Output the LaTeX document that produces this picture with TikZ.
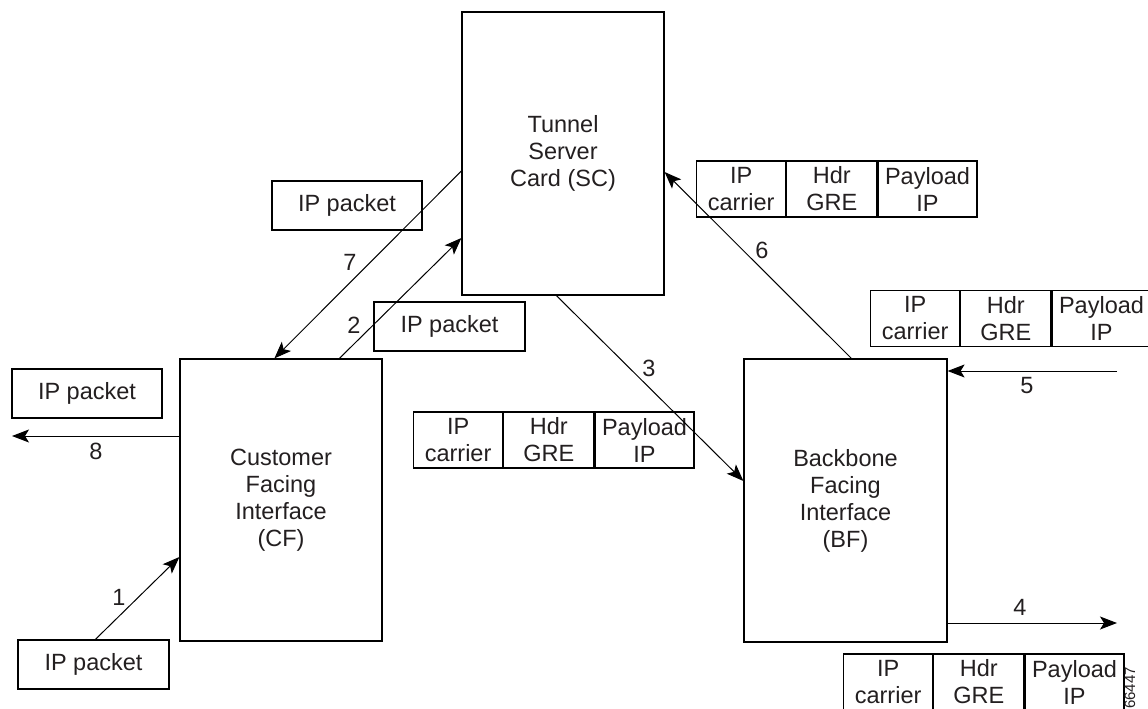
\documentclass[tikz,border=0pt]{standalone}
\usepackage{fontspec}
\setmainfont{Liberation Sans}
\usetikzlibrary{arrows.meta,calc}
\definecolor{txt}{RGB}{35,31,32}
\newcommand\grepkt[3]{%
  \node[cell, minimum width=89pt, anchor=west] (#1a) at (#2,#3) {IP\\carrier};
  \node[cell, minimum width=90pt, anchor=west] (#1b) at (#1a.east) {Hdr\\GRE};
  \node[cell, minimum width=99pt, anchor=west] (#1c) at (#1b.east) {Payload\\IP};
}
\begin{document}
\begin{tikzpicture}[x=1pt,y=-1pt,
  box/.style={draw=black, line width=1.2pt, inner sep=0pt, align=center, text=txt,
              font=\fontsize{23.5}{27}\selectfont},
  unit/.style={box, minimum width=202pt, minimum height=283pt},
  pkt/.style={box, minimum width=150pt, minimum height=49pt},
  cell/.style={box, minimum height=56pt},
  num/.style={text=txt, font=\fontsize{23.5}{27}\selectfont, inner sep=0pt},
  arr/.style={draw=black, line width=1pt, -{Stealth[length=17pt,width=13pt,inset=4pt]}}]
\useasboundingbox (0,0) rectangle (1148,709);

% main units
\node[unit] (sc) at (563,153.5) {Tunnel\\Server\\Card (SC)};
\node[unit, minimum height=282pt] (cf) at (281,500) {Customer\\Facing\\Interface\\(CF)};
\node[unit, minimum width=203pt] (bf) at (845.5,500.5) {Backbone\\Facing\\Interface\\(BF)};

% IP packets
\node[pkt] (ipA) at (87,393.5) {IP packet};
\node[pkt, minimum width=151pt] (ipB) at (93.5,664.5) {IP packet};
\node[pkt] (ipC) at (347,205.5) {IP packet};
\node[pkt, minimum width=151pt] (ipD) at (449.5,326.5) {IP packet};

% GRE packets
\grepkt{m}{413}{440}
\grepkt{t}{696}{189}
\grepkt{r}{870}{318.5}
\grepkt{b}{843}{682}

% free ends
\coordinate (e4) at (1117,623);
\coordinate (e5) at (1117,371);
\coordinate (e8) at (12,436);

% connectors
\draw[arr] ([xshift=78pt]ipB.north west) -- ([yshift=-57pt]cf.west);
\draw[arr] ([xshift=160pt]cf.north west) -- ([yshift=-84.5pt]sc.west);
\draw[arr] ([xshift=95pt]sc.south west) -- ([yshift=19.5pt]bf.west);
\draw[arr] ([yshift=-122.5pt]bf.east) -- (e4);
\draw[arr] (e5) -- ([yshift=129.5pt]bf.east);
\draw[arr] ([xshift=108pt]bf.north west) -- ([yshift=-18.5pt]sc.east);
\draw[arr] ([yshift=-17.5pt]sc.west) -- ([xshift=95pt]cf.north west);
\draw[arr] ([yshift=64pt]cf.west) -- (e8);

% step labels
\node[num] (n1) at (119,597) {1};
\node[num] (n2) at (354,325) {2};
\node[num] (n3) at (649,368) {3};
\node[num] (n4) at (1020,607) {4};
\node[num] (n5) at (1027,386) {5};
\node[num] (n6) at (762,250) {6};
\node[num] (n7) at (350,262) {7};
\node[num] (n8) at (96,451) {8};

% figure number
\node[text=txt, font=\fontsize{15}{15}\selectfont, rotate=90, inner sep=0pt] (fig) at (1130,688) {66447};
\end{tikzpicture}
\end{document}
